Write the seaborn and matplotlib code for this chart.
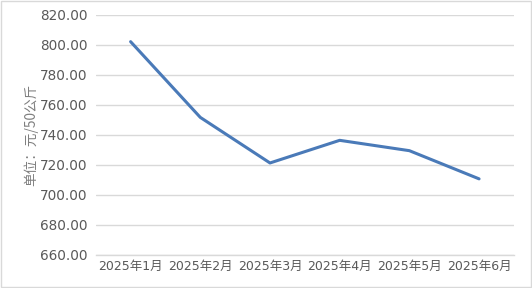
import matplotlib
matplotlib.use("Agg")
import matplotlib.pyplot as plt
import seaborn as sns
import pandas as pd

months = ["2025年1月", "2025年2月", "2025年3月", "2025年4月", "2025年5月", "2025年6月"]
prices = [802.2, 751.7, 721.3, 736.4, 729.5, 710.7]
yticks = [660, 680, 700, 720, 740, 760, 780, 800, 820]
ylabel = "单位：元/50公斤"

sns.set_theme(style="white")
plt.rcParams['font.family'] = ['DejaVu Sans', 'Noto Sans CJK SC']

df = pd.DataFrame({"month": months, "price": prices})

fig = plt.figure(figsize=(5.32, 2.88), dpi=100)
ax = fig.add_axes([0.180, 0.115, 0.786, 0.833])
sns.lineplot(data=df, x="month", y="price", ax=ax, color="#4a7ab8", linewidth=2.2, sort=False)

ax.set_xlim(-0.5, len(months) - 0.5)
ax.set_ylim(660, 820)
ax.set_yticks(yticks)
ax.set_yticklabels([f"{v:.2f}" for v in yticks])
ax.yaxis.grid(True, color="#d9d9d9", linewidth=1.0)
ax.xaxis.grid(False)
for s in ["top", "right", "left"]:
    ax.spines[s].set_visible(False)
ax.spines["bottom"].set_color("#d9d9d9")
ax.spines["bottom"].set_linewidth(1.0)
ax.tick_params(axis="y", length=0, labelsize=9.8, colors="#595959", pad=6)
ax.tick_params(axis="x", length=0, labelsize=9, colors="#595959", pad=4)
ax.set_xlabel("")
ax.set_ylabel(ylabel, fontsize=9.8, color="#7f7f7f", family=['Noto Sans CJK SC', 'DejaVu Sans'], labelpad=1)

fig.patches.append(plt.Rectangle((0.001, 0.002), 0.997, 0.995, transform=fig.transFigure,
                                 fill=False, edgecolor="#d9d9d9", linewidth=1.0))
fig.savefig("out.png", dpi=100)
